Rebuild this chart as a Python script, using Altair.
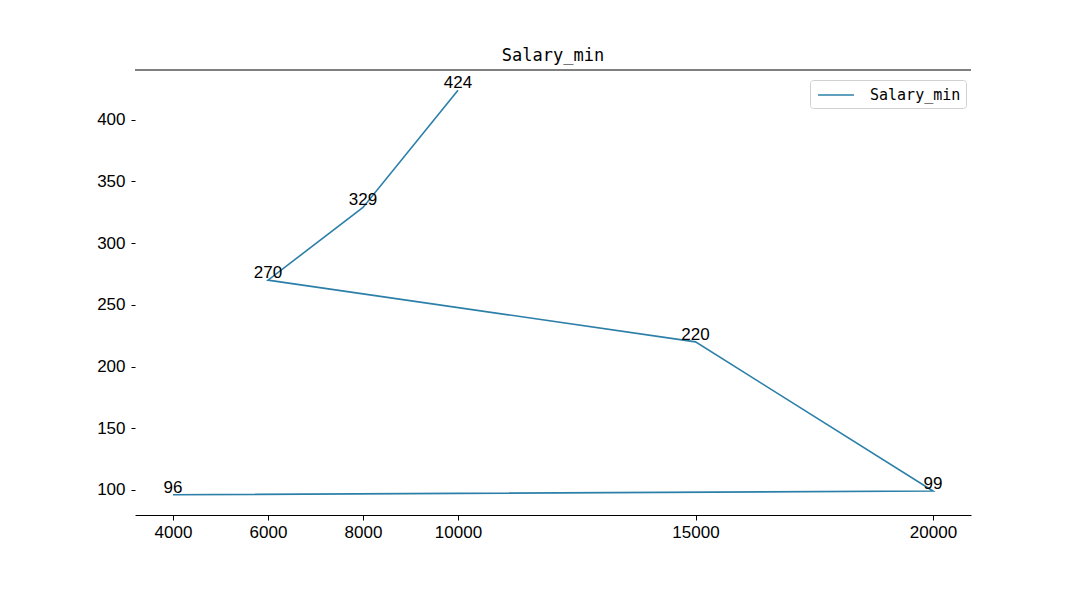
import altair as alt
import pandas as pd

salary = [10000, 8000, 6000, 15000, 20000, 4000]
counts = [424, 329, 270, 220, 99, 96]
order = [0, 1, 2, 3, 4, 5]
x_ticks = [4000, 6000, 8000, 10000, 15000, 20000]
y_ticks = [100, 150, 200, 250, 300, 350, 400]
series = "Salary_min"

df = pd.DataFrame({"salary": salary, "count": counts, "ord": order, "series": [series] * len(salary)})

W, H = 836, 445
xs = alt.Scale(domain=[3200, 20800], nice=False, zero=False)
ys = alt.Scale(domain=[79.6, 440.4], nice=False, zero=False)

LINE = "#2c7fa8"
TICKFONT = "Liberation Sans"
MONO = "DejaVu Sans Mono"

base = alt.Chart(df)

line = base.mark_line(strokeWidth=1.6).encode(
    x=alt.X("salary:Q", scale=xs,
            axis=alt.Axis(values=x_ticks, title=None, grid=False, domain=True, domainColor="black",
                          domainWidth=1, ticks=True, tickColor="black", tickSize=5,
                          labelFont=TICKFONT, labelFontSize=17, labelColor="black",
                          labelPadding=4, labelFlush=False, format="d")),
    y=alt.Y("count:Q", scale=ys,
            axis=alt.Axis(values=y_ticks, title=None, grid=False, domain=False,
                          ticks=True, tickColor="black", tickSize=4,
                          labelFont=TICKFONT, labelFontSize=17, labelColor="black",
                          labelPadding=6, format="d")),
    order="ord:Q",
    color=alt.Color("series:N", scale=alt.Scale(range=[LINE]),
                    legend=alt.Legend(title=None, orient="none", legendX=675, legendY=10,
                                      symbolType="M-2,0H2", symbolSize=324, symbolStrokeWidth=1.6,
                                      symbolOffset=11,
                                      labelFont=MONO, labelFontSize=15, labelColor="black",
                                      strokeColor="#d0d0d0", cornerRadius=3, padding=5,
                                      labelOffset=24, fillColor="white")),
)

labels = base.mark_text(align="center", baseline="bottom", font=TICKFONT, fontSize=17,
                        color="black", dy=2).encode(
    x=alt.X("salary:Q", scale=xs),
    y=alt.Y("count:Q", scale=ys),
    text=alt.Text("count:Q", format="d"),
)

top_spine = alt.Chart(pd.DataFrame({"a": [0]})).mark_rule(color="black", strokeWidth=1).encode(
    x=alt.value(0), x2=alt.value(W), y=alt.value(0)
)

chart = alt.layer(line, labels, top_spine).properties(
    width=W, height=H,
    background="white",
    title=alt.TitleParams(series, font=MONO, fontSize=17, fontWeight="normal", color="black",
                          anchor="middle", offset=5),
    autosize=alt.AutoSizeParams(type="none"),
    padding={"left": 127, "top": 62, "right": 100, "bottom": 66},
).configure_view(stroke="transparent", strokeWidth=0)

chart.save("out.html", embed_options={"renderer": "svg", "actions": False})
